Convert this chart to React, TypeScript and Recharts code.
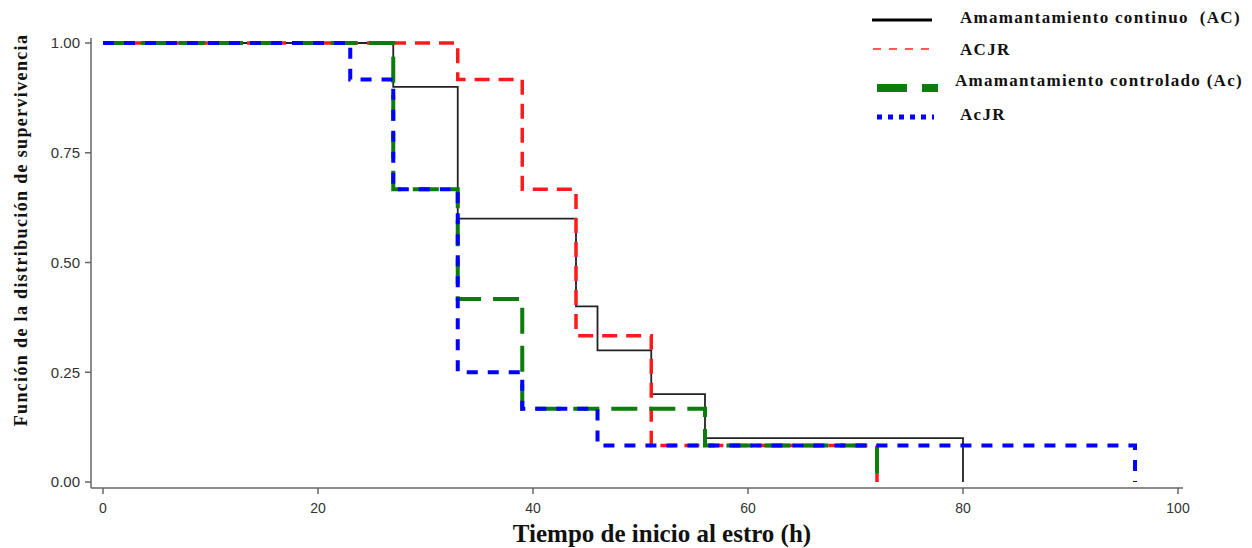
import React from "react";
import { LineChart, Line, XAxis, YAxis, Label } from "recharts";

// Kaplan-Meier steps: time (h) and survival after each event
const acTimes = [0, 27, 33, 44, 46, 51, 56, 80];
const acSurv = [1, 0.9, 0.6, 0.4, 0.3, 0.2, 0.1, 0];

const acjrTimes = [0, 33, 39, 44, 51, 72];
const acjrSurv = [1, 0.917, 0.667, 0.333, 0.083, 0];

const acCtrlTimes = [0, 27, 33, 39, 56, 72];
const acCtrlSurv = [1, 0.667, 0.417, 0.167, 0.083, 0];

const acjrCtrlTimes = [0, 23, 27, 33, 39, 46, 96];
const acjrCtrlSurv = [1, 0.917, 0.667, 0.25, 0.167, 0.083, 0];

const xTicks = [0, 20, 40, 60, 80, 100];
const yTicks = [0, 0.25, 0.5, 0.75, 1];

const seriesNames = [
  "Amamantamiento continuo  (AC)",
  "ACJR",
  "Amamantamiento controlado (Ac)",
  "AcJR",
];

const toPoints = (times: number[], surv: number[]) =>
  times.map((t, i) => ({ t, s: surv[i] }));

const serif = "'Liberation Serif', 'Times New Roman', serif";
const sans = "'Liberation Sans', Arial, sans-serif";

const LegendOverlay = () => (
  <svg
    width={1252}
    height={548}
    style={{ position: "absolute", left: 0, top: 0, pointerEvents: "none" }}
  >
    <line x1={872} x2={932} y1={20} y2={20} stroke="#000" strokeWidth={3} />
    <line x1={873} x2={932} y1={49} y2={49} stroke="#ff2020" strokeWidth={1.5} strokeDasharray="8 8" />
    <line x1={877} x2={938} y1={88} y2={88} stroke="#0a7d0a" strokeWidth={8} strokeDasharray="30 15" />
    <line x1={877} x2={934} y1={117} y2={117} stroke="#0000ff" strokeWidth={5} strokeDasharray="5 6" />
    {[19, 51, 82, 116].map((y, i) => (
      <text
        key={i}
        x={i === 2 ? 955 : 960}
        y={y}
        dominantBaseline="middle"
        fontFamily={serif}
        fontWeight="bold"
        fontSize={17}
        letterSpacing={1.3}
        fill="#111"
        style={{ whiteSpace: "pre" }}
      >
        {seriesNames[i]}
      </text>
    ))}
  </svg>
);

export default function App() {
  return (
    <div style={{ position: "absolute", left: 0, top: 0, width: 1252, height: 548, background: "#fff" }}>
      <LineChart
        width={1252}
        height={548}
        margin={{ top: 38, right: 69, bottom: 0, left: 0 }}
      >
        <XAxis
          type="number"
          dataKey="t"
          domain={[0, 100]}
          ticks={xTicks}
          allowDataOverflow
          padding={{ left: 12, right: 5 }}
          height={60}
          tickSize={6}
          tickMargin={9}
          stroke="#666"
          strokeWidth={1.5}
          tick={{ fill: "#333", fontSize: 14, fontFamily: sans }}
        >
          <Label
            content={() => (
              <text
                x={662}
                y={542}
                textAnchor="middle"
                fontFamily={serif}
                fontWeight="bold"
                fontSize={25}
                fill="#111"
              >
                Tiempo de inicio al estro (h)
              </text>
            )}
          />
        </XAxis>
        <YAxis
          type="number"
          domain={[0, 1]}
          ticks={yTicks}
          width={91}
          padding={{ top: 5, bottom: 6 }}
          tickSize={6}
          tickMargin={5}
          stroke="#666"
          strokeWidth={1.5}
          tickFormatter={(v: number) => v.toFixed(2)}
          tick={{ fill: "#333", fontSize: 15, fontFamily: sans }}
        >
          <Label
            content={() => (
              <text
                x={27}
                y={230}
                transform="rotate(-90 27 230)"
                textAnchor="middle"
                fontFamily={serif}
                fontWeight="bold"
                fontSize={18}
                letterSpacing={1.35}
                fill="#111"
              >
                Función de la distribución de supervivencia
              </text>
            )}
          />
        </YAxis>
        <Line
          data={toPoints(acTimes, acSurv)}
          dataKey="s"
          name={seriesNames[0]}
          type="stepAfter"
          stroke="#222"
          strokeWidth={1.8}
          dot={false}
          activeDot={false}
          isAnimationActive={false}
        />
        <Line
          data={toPoints(acjrTimes, acjrSurv)}
          dataKey="s"
          name={seriesNames[1]}
          type="stepAfter"
          stroke="#ff1a1a"
          strokeWidth={3.5}
          strokeDasharray="15 9"
          dot={false}
          activeDot={false}
          isAnimationActive={false}
        />
        <Line
          data={toPoints(acCtrlTimes, acCtrlSurv)}
          dataKey="s"
          name={seriesNames[2]}
          type="stepAfter"
          stroke="#0a7d0a"
          strokeWidth={4}
          strokeDasharray="26 12"
          dot={false}
          activeDot={false}
          isAnimationActive={false}
        />
        <Line
          data={toPoints(acjrCtrlTimes, acjrCtrlSurv)}
          dataKey="s"
          name={seriesNames[3]}
          type="stepAfter"
          stroke="#0000ff"
          strokeWidth={4}
          strokeDasharray="11 10"
          dot={false}
          activeDot={false}
          isAnimationActive={false}
        />
      </LineChart>
      <LegendOverlay />
    </div>
  );
}
